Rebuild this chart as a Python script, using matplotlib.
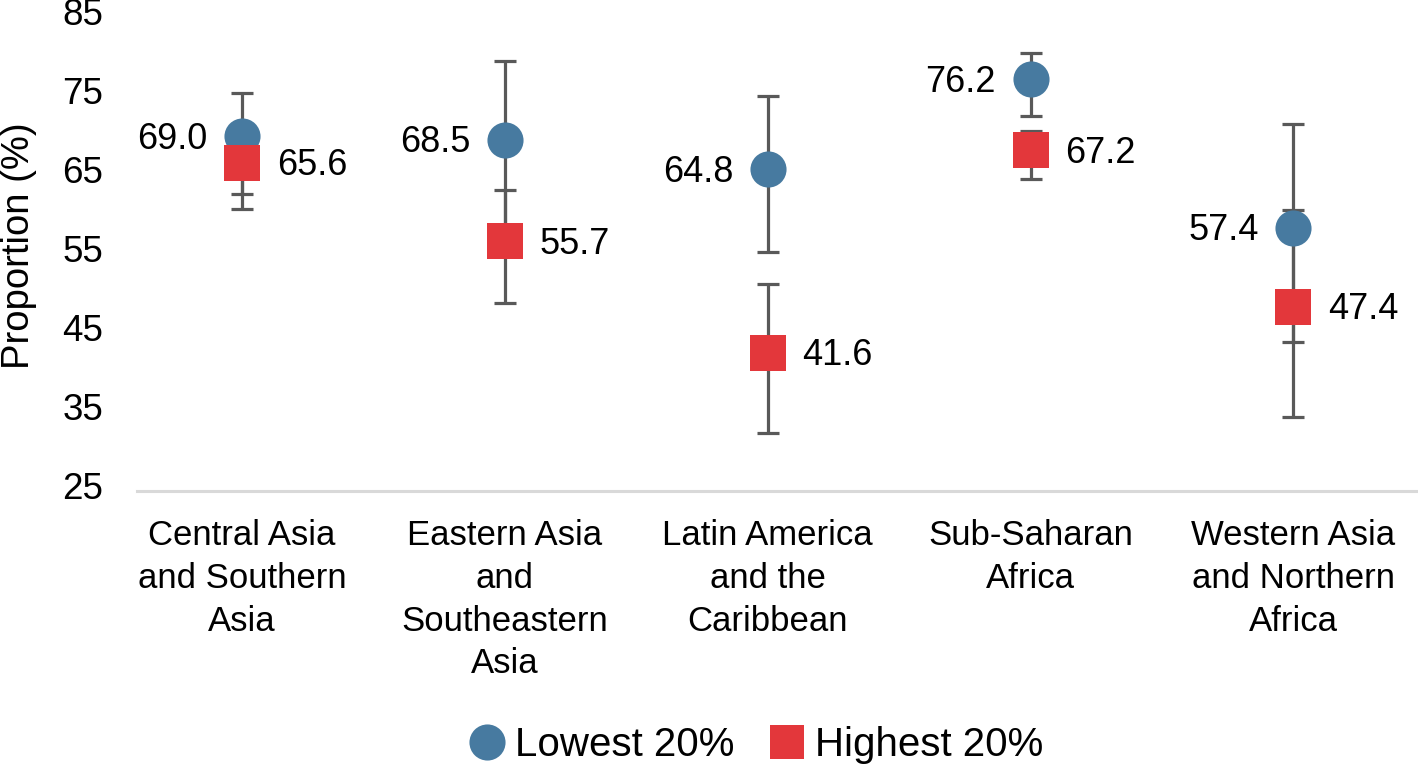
import matplotlib
matplotlib.use("Agg")
import matplotlib.pyplot as plt
import matplotlib.transforms as mtransforms
import numpy as np
from matplotlib.lines import Line2D

plt.rcParams['font.family'] = ['Liberation Sans', 'DejaVu Sans']

categories = ["Central Asia\nand Southern\nAsia",
              "Eastern Asia\nand\nSoutheastern\nAsia",
              "Latin America\nand the\nCaribbean",
              "Sub-Saharan\nAfrica",
              "Western Asia\nand Northern\nAfrica"]
lowest = [69.0, 68.5, 64.8, 76.2, 57.4]
lowest_lo = [61.7, 57.0, 54.3, 71.6, 42.9]
lowest_hi = [74.5, 78.5, 74.1, 79.5, 70.5]
highest = [65.6, 55.7, 41.6, 67.2, 47.4]
highest_lo = [59.8, 47.9, 31.5, 63.6, 33.5]
highest_hi = [70.5, 62.2, 50.3, 69.7, 59.7]
yticks = [25, 35, 45, 55, 65, 75, 85]

blue = '#477AA0'
red = '#E3373B'
grey = '#595959'

fig = plt.figure(figsize=(14.18, 7.67), dpi=100)
ax = fig.add_axes([137/1418, (767-491)/767, (1418-137)/1418, (491-9.8)/767])

x = np.arange(len(categories))
lo = np.array(lowest); hi = np.array(highest)
ax.errorbar(x, lo, yerr=[lo - np.array(lowest_lo), np.array(lowest_hi) - lo],
            fmt='none', ecolor=grey, elinewidth=2.3, capsize=8, capthick=2.3, zorder=2)
ax.errorbar(x, hi, yerr=[hi - np.array(highest_lo), np.array(highest_hi) - hi],
            fmt='none', ecolor=grey, elinewidth=2.3, capsize=8, capthick=2.3, zorder=2)
ax.plot(x, lo, 'o', color=blue, markersize=26, markeredgewidth=0, linestyle='none', zorder=3)
ax.plot(x, hi, 's', color=red, markersize=25.5, markeredgewidth=0, linestyle='none', zorder=4)

for xi, v in zip(x, lowest):
    ax.annotate(f"{v:.1f}", (xi, v), xytext=(-25, -2), textcoords='offset points',
                ha='right', va='center', fontsize=26, color='black')
for xi, v in zip(x, highest):
    ax.annotate(f"{v:.1f}", (xi, v), xytext=(25, -2), textcoords='offset points',
                ha='left', va='center', fontsize=26, color='black')

ax.set_xlim(-0.40, 4.474)
ax.set_ylim(24.1, 85)
ax.set_yticks(yticks)
ax.set_yticklabels([])
# y tick labels, nudged slightly down as in the reference
lab_tr = mtransforms.blended_transform_factory(ax.transAxes, ax.transData) + \
    mtransforms.ScaledTranslation(-34/100, -15.5/100, fig.dpi_scale_trans)
for t in yticks:
    ax.text(0, t, str(t), transform=lab_tr, ha='right', va='baseline', fontsize=26.5, clip_on=False)
ax.set_xticks(x)
ax.set_xticklabels(categories, fontsize=25, linespacing=1.38, va='top')
ax.tick_params(axis='y', length=0)
ax.tick_params(axis='x', length=0, pad=20)
for s in ['top', 'right', 'left']:
    ax.spines[s].set_visible(False)
ax.spines['bottom'].set_color('#D9D9D9')
ax.spines['bottom'].set_linewidth(2.2)
ax.set_ylabel("Proportion (%)", fontsize=27.5)
ax.yaxis.set_label_coords((37 - 137)/1281, (491 - 246)/481.2)

handles = [Line2D([0], [0], marker='o', color=blue, linestyle='none', markersize=26, markeredgewidth=0),
           Line2D([0], [0], marker='s', color=red, linestyle='none', markersize=25, markeredgewidth=0)]
fig.legend(handles, ["Lowest 20%", "Highest 20%"], loc='center', bbox_to_anchor=(755/1418, 1-745/767),
           ncol=2, frameon=False, fontsize=29, handletextpad=0.2, columnspacing=0.8, handlelength=1.0)

fig.savefig("out.png", dpi=100)
